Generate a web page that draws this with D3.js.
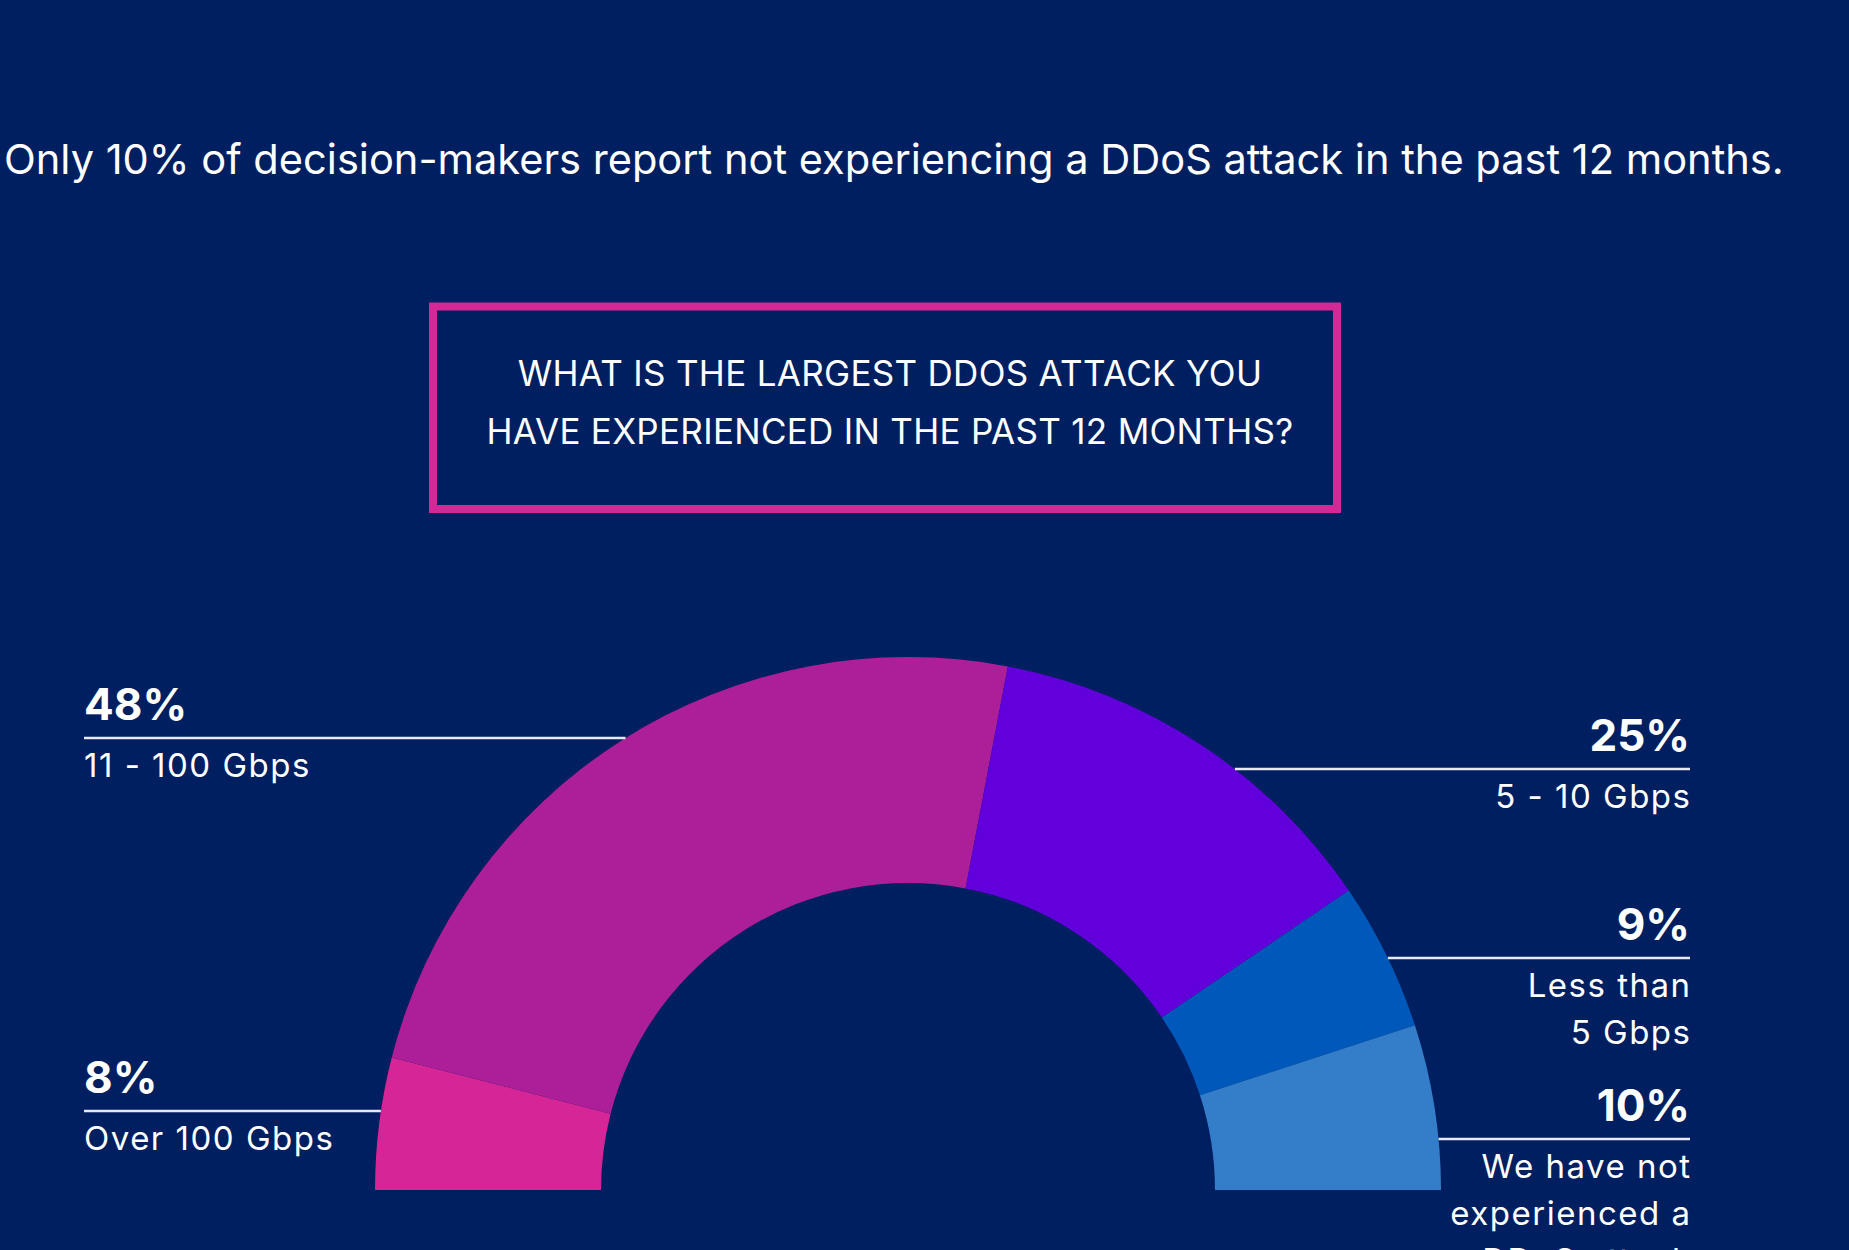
<!DOCTYPE html>
<html>
<head>
<meta charset="utf-8">
<script src="https://cdn.jsdelivr.net/npm/d3@7"></script>
<style>
  html, body { margin: 0; padding: 0; background: #001F60; overflow: hidden; }
  svg { display: block; }
  text { font-family: Inter, "Noto Sans", sans-serif; fill: #ffffff; }
</style>
</head>
<body>
<svg id="chart" width="1849" height="1250"></svg>
<script>
// Survey answers, left to right along the half ring
const categories = ["Over 100 Gbps", "11 - 100 Gbps", "5 - 10 Gbps", "Less than 5 Gbps", "We have not experienced a DDoS attack"];
const values = [8, 48, 25, 9, 10];
const labelLines = [
  ["Over 100 Gbps"],
  ["11 - 100 Gbps"],
  ["5 - 10 Gbps"],
  ["Less than", "5 Gbps"],
  ["We have not", "experienced a", "DDoS attack"]
];
const sliceColors = ["#D62596", "#AC1F99", "#6100DA", "#0058BA", "#347DC8"];

const headline = "Only 10% of decision-makers report not experiencing a DDoS attack in the past 12 months.";
const questionLines = ["WHAT IS THE LARGEST DDOS ATTACK YOU", "HAVE EXPERIENCED IN THE PAST 12 MONTHS?"];

// Layout
const W = 1849, H = 1250;
const cx = 908, cy = 1190;
const rOuter = 533, rInner = 307;
const leftX = 84, rightX = 1690;
// side and rule height for each callout
const callouts = [
  { side: "left",  ruleY: 1111 },
  { side: "left",  ruleY: 738 },
  { side: "right", ruleY: 769 },
  { side: "right", ruleY: 958 },
  { side: "right", ruleY: 1139 }
];

const svg = d3.select("#chart");
svg.append("rect").attr("width", W).attr("height", H).attr("fill", "#001F60");

// Headline, fitted to its line width
const title = svg.append("text")
  .attr("x", 4).attr("y", 174)
  .style("font-size", "38px")
  .text(headline);
const tw = title.node().getComputedTextLength();
title.style("font-size", (38 * 1780 / tw).toFixed(2) + "px");

// Question box
svg.append("rect")
  .attr("x", 433).attr("y", 306.5)
  .attr("width", 904).attr("height", 202.5)
  .attr("fill", "none")
  .attr("stroke", "#D42896")
  .attr("stroke-width", 8);

const q = svg.append("g");
questionLines.forEach((line, i) => {
  q.append("text")
    .attr("x", 890).attr("y", 386 + i * 58)
    .attr("text-anchor", "middle")
    .style("font-size", "35px")
    .style("letter-spacing", "0.3px")
    .text(line);
});

// Half-ring
const color = d3.scaleOrdinal().domain(categories).range(sliceColors);
const pie = d3.pie().sort(null).value(d => d.value)
  .startAngle(-Math.PI / 2).endAngle(Math.PI / 2);
const arc = d3.arc().innerRadius(rInner).outerRadius(rOuter);
const data = categories.map((c, i) => ({ category: c, value: values[i], lines: labelLines[i], callout: callouts[i] }));

const ring = svg.append("g").attr("transform", `translate(${cx},${cy})`);
ring.selectAll("path")
  .data(pie(data))
  .join("path")
  .attr("d", arc)
  .attr("fill", d => color(d.data.category));

// Callouts: rule from the text edge to the ring's outer edge
const labels = svg.append("g");
data.forEach(d => {
  const { side, ruleY } = d.callout;
  const dy = cy - ruleY;
  const dx = Math.sqrt(Math.max(0, rOuter * rOuter - dy * dy));
  const edgeX = side === "left" ? cx - dx : cx + dx;
  const textX = side === "left" ? leftX : rightX;
  const anchor = side === "left" ? "start" : "end";
  const shift = side === "left" ? 0 : 1.5; // offset trailing letter-spacing

  labels.append("line")
    .attr("x1", textX).attr("x2", edgeX)
    .attr("y1", ruleY).attr("y2", ruleY)
    .attr("stroke", "#E6E9F2")
    .attr("stroke-width", 2.5);

  labels.append("text")
    .attr("x", textX).attr("y", ruleY - 18)
    .attr("text-anchor", anchor)
    .style("font-size", "44px").style("font-weight", 700)
    .text(d.value + "%");

  d.lines.forEach((line, i) => {
    labels.append("text")
      .attr("x", textX + shift).attr("y", ruleY + 39 + i * 47)
      .attr("text-anchor", anchor)
      .style("font-size", "33px")
      .style("letter-spacing", "1.5px")
      .text(line);
  });
});
</script>
</body>
</html>
